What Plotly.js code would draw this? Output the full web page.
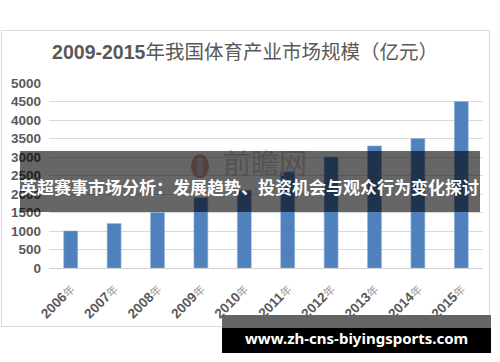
<!DOCTYPE html>
<html>
<head>
<meta charset="utf-8">
<script src="https://cdn.plot.ly/plotly-3.0.1.min.js"></script>
<style>html,body{margin:0;padding:0;background:#fff;}#chart{width:500px;height:362px;}</style>
</head>
<body>
<div id="chart"></div>
<script>
// Data
var years = ['2006', '2007', '2008', '2009', '2010', '2011', '2012', '2013', '2014', '2015'];
var values = [1000, 1200, 1500, 1900, 2100, 2600, 3000, 3300, 3500, 4500];
var yTicks = [0, 500, 1000, 1500, 2000, 2500, 3000, 3500, 4000, 4500, 5000];
var titleNum = '2009-2015';
var titleRest = '年我国体育产业市场规模（亿元）';
var bannerText = '英超赛事市场分析：发展趋势、投资机会与观众行为变化探讨';
var urlText = 'www.zh-cns-biyingsports.com';
var watermark = '前瞻网';

var L = 49, T = 83, W = 434, H = 185;
function X(px) { return (px - L) / W; }
function Y(py) { return (T + H - py) / H; }

var tickText = years.map(function (y) {
  return '<b>' + y + '</b><span style="font-size:11px;color:#9a9a9a">年</span>';
});

var trace = {
  type: 'bar',
  x: years,
  y: values,
  marker: { color: '#4F81BD', line: { color: '#8fb0d8', width: 0.6 } },
  width: 0.32,
  hoverinfo: 'skip'
};

var layout = {
  width: 500, height: 362,
  margin: { l: L, r: 500 - L - W, t: T, b: 362 - T - H, pad: 0 },
  paper_bgcolor: '#ffffff', plot_bgcolor: '#ffffff',
  showlegend: false,
  font: { family: 'Liberation Sans, Arial, Noto Sans CJK SC, sans-serif', color: '#595959' },
  title: {
    text: '<b>' + titleNum + '</b>' + titleRest,
    font: { size: 19.5, color: '#595959', family: 'Liberation Sans, Arial, Noto Sans CJK SC, sans-serif' },
    x: 0.49, xref: 'container', xanchor: 'center',
    y: 1 - 52 / 362, yref: 'container', yanchor: 'middle'
  },
  xaxis: {
    type: 'category',
    tickvals: years, ticktext: tickText,
    tickangle: -45,
    tickfont: { size: 13.5, color: '#595959', family: 'Liberation Sans, Arial, Noto Sans CJK SC, sans-serif' },
    showgrid: false, zeroline: false,
    showline: true, linecolor: '#D0D0D0', linewidth: 1,
    ticks: '', ticklabelstandoff: 7,
    fixedrange: true
  },
  yaxis: {
    range: [0, 5000],
    tickvals: yTicks,
    ticktext: yTicks.map(String),
    tickfont: { size: 13.5, color: '#595959', family: 'Liberation Sans, Arial, sans-serif', weight: 'bold' },
    showgrid: true, gridcolor: '#D9D9D9', gridwidth: 1,
    zeroline: false, showline: false,
    ticks: '', ticklabelstandoff: 7,
    fixedrange: true
  },
  shapes: [
    { type: 'rect', xref: 'paper', yref: 'paper', layer: 'below',
      x0: X(1.5), x1: X(489.5), y0: Y(326.5), y1: Y(30.5),
      line: { color: '#D9D9D9', width: 1 }, fillcolor: 'rgba(0,0,0,0)' },
    // watermark logo (under the banner)
    { type: 'circle', xref: 'paper', yref: 'paper', layer: 'above',
      x0: X(191), x1: X(209), y0: Y(178), y1: Y(154),
      line: { width: 0 }, fillcolor: 'rgba(215,160,150,1)' },
    { type: 'rect', xref: 'paper', yref: 'paper', layer: 'above',
      x0: X(197), x1: X(203), y0: Y(176), y1: Y(158),
      line: { width: 0 }, fillcolor: 'rgba(205,205,205,1)' },
    { type: 'rect', xref: 'paper', yref: 'paper', layer: 'above',
      x0: X(215), x1: X(315), y0: Y(182), y1: Y(150),
      line: { width: 0 }, fillcolor: 'rgba(0,0,0,0)',
      label: { text: watermark, font: { size: 28, color: '#cfcfcf', family: 'Noto Sans CJK SC' }, textposition: 'middle center' } },
    // banner
    { type: 'rect', xref: 'paper', yref: 'paper', layer: 'above',
      x0: X(20), x1: X(480), y0: Y(212), y1: Y(151),
      line: { width: 0 }, fillcolor: 'rgba(0,0,0,0.6)' },
    // bottom url box
    { type: 'rect', xref: 'paper', yref: 'paper', layer: 'above',
      x0: X(222), x1: X(491), y0: Y(353), y1: Y(315),
      line: { width: 0 }, fillcolor: '#000000' },
    { type: 'rect', xref: 'paper', yref: 'paper', layer: 'above',
      x0: X(222), x1: X(491), y0: Y(328), y1: Y(315),
      line: { width: 0 }, fillcolor: '#646464' }
  ],
  annotations: [
    { text: '<b>' + bannerText + '</b>', xref: 'paper', yref: 'paper',
      x: X(249), y: Y(186), xanchor: 'center', yanchor: 'middle', showarrow: false,
      font: { size: 17, color: '#ffffff', family: 'Noto Sans CJK SC, sans-serif' } },
    { text: '<b>' + urlText + '</b>', xref: 'paper', yref: 'paper',
      x: X(356), y: Y(337.5), xanchor: 'center', yanchor: 'middle', showarrow: false,
      font: { size: 15, color: '#ffffff', family: 'Noto Sans, DejaVu Sans, sans-serif' } }
  ]
};

Plotly.newPlot('chart', [trace], layout, { staticPlot: true, displayModeBar: false });
</script>
</body>
</html>
